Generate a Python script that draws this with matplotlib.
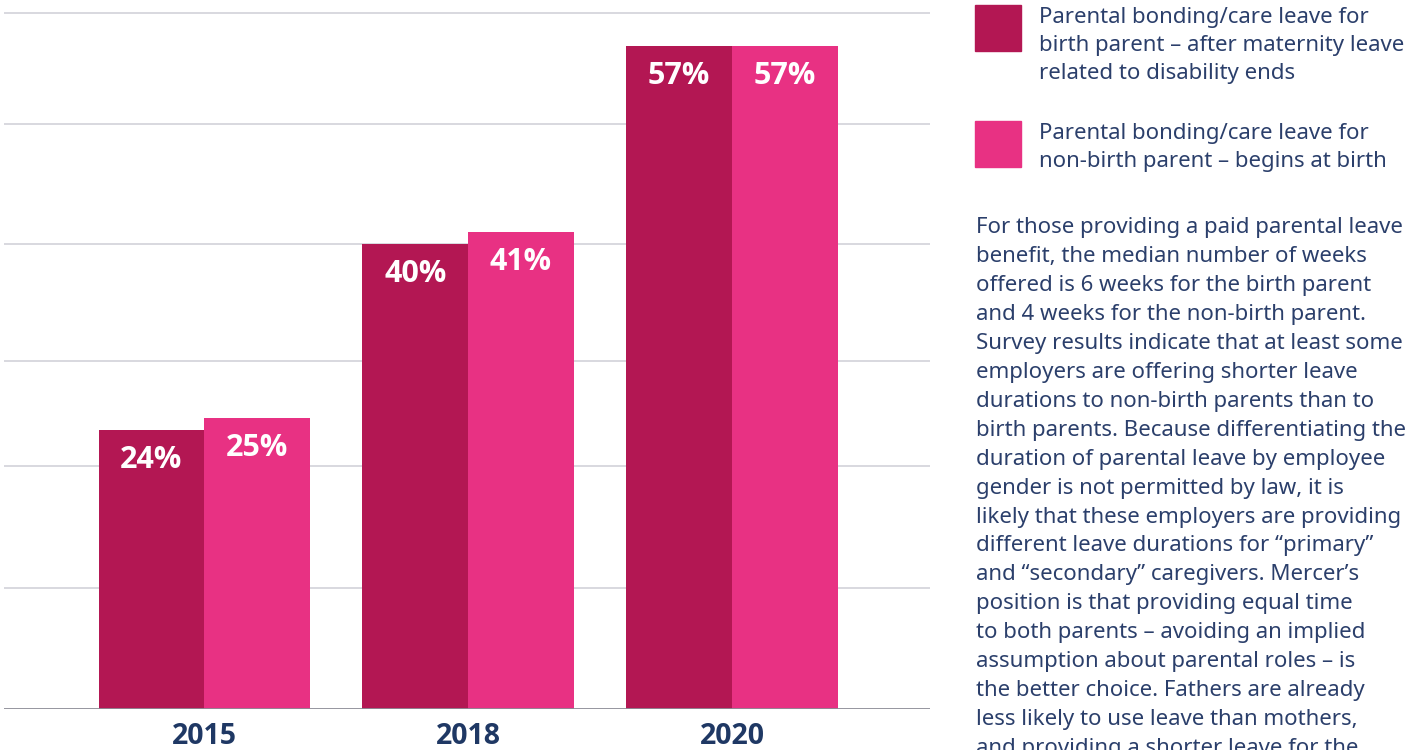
import matplotlib
matplotlib.use("Agg")
import matplotlib.pyplot as plt
import numpy as np

years = ["2015", "2018", "2020"]
birth_parent = [24, 40, 57]
non_birth_parent = [25, 41, 57]
series_labels = [
    "Parental bonding/care leave for\nbirth parent \u2013 after maternity leave\nrelated to disability ends",
    "Parental bonding/care leave for\nnon-birth parent \u2013 begins at birth",
]
grid_levels = [10.45, 20.9, 29.9, 40.05, 50.35, 59.9]
paragraph = [
    "For those providing a paid parental leave",
    "benefit, the median number of weeks",
    "offered is 6 weeks for the birth parent",
    "and 4 weeks for the non-birth parent.",
    "Survey results indicate that at least some",
    "employers are offering shorter leave",
    "durations to non-birth parents than to",
    "birth parents. Because differentiating the",
    "duration of parental leave by employee",
    "gender is not permitted by law, it is",
    "likely that these employers are providing",
    "different leave durations for \u201cprimary\u201d",
    "and \u201csecondary\u201d caregivers. Mercer\u2019s",
    "position is that providing equal time",
    "to both parents \u2013 avoiding an implied",
    "assumption about parental roles \u2013 is",
    "the better choice. Fathers are already",
    "less likely to use leave than mothers,",
    "and providing a shorter leave for the",
]

DARK = "#b31753"
PINK = "#e83183"
NAVY = "#1f3864"
TEXT = "#2b3f6b"
FONT = ["Noto Sans", "DejaVu Sans"]
BOLD = ["Open Sans", "DejaVu Sans"]

W, H = 1424, 750
fig = plt.figure(figsize=(W / 100, H / 100), dpi=100)
fig.patch.set_facecolor("white")

ax = fig.add_axes([4 / W, 41 / H, 926 / W, 709 / H])
x = np.arange(len(years))
bw = 0.4
b1 = ax.bar(x - bw / 2, birth_parent, bw, color=DARK, zorder=3)
b2 = ax.bar(x + bw / 2, non_birth_parent, bw, color=PINK, zorder=3)

ax.set_xlim(-0.758, 2.75)
ax.set_ylim(0, 61.0)
for g in grid_levels:
    ax.axhline(g, color="#d5d5dc", lw=1.3, zorder=1)
ax.axhline(0, color="#8c8c96", lw=2, zorder=4)
for s in ax.spines.values():
    s.set_visible(False)
ax.set_xticks([])
ax.set_yticks([])

for bars, vals in ((b1, birth_parent), (b2, non_birth_parent)):
    for rect, v in zip(bars, vals):
        ax.annotate(f"{v}%", (rect.get_x() + rect.get_width() / 2, v),
                    xytext=(0, -30), textcoords="offset pixels",
                    ha="center", va="center", color="white",
                    fontsize=22, fontweight="bold", family=BOLD, zorder=5)

for xi, yr in zip(x, years):
    ax.annotate(yr, (xi, 0), xytext=(0, -28), textcoords="offset pixels",
                ha="center", va="center", color=NAVY, fontsize=20.5,
                fontweight="bold", family=BOLD, annotation_clip=False)

# legend
def px(xp, yp):
    return xp / W, 1 - yp / H

for (ytop, col, lab) in ((5, DARK, series_labels[0]), (121, PINK, series_labels[1])):
    fig.patches.append(plt.Rectangle(px(975, ytop + 46), 46 / W, 46 / H,
                                     transform=fig.transFigure, color=col))
    lines = lab.split("\n")
    for i, ln in enumerate(lines):
        fig.text(*px(1039, ytop + 12 + i * 28), ln, ha="left", va="center",
                 color=TEXT, fontsize=16, family=FONT)

for i, ln in enumerate(paragraph):
    fig.text(*px(976, 228 + i * 28.9), ln, ha="left", va="center",
             color=TEXT, fontsize=16, family=FONT)

fig.savefig("out.png", dpi=100, facecolor="white")
